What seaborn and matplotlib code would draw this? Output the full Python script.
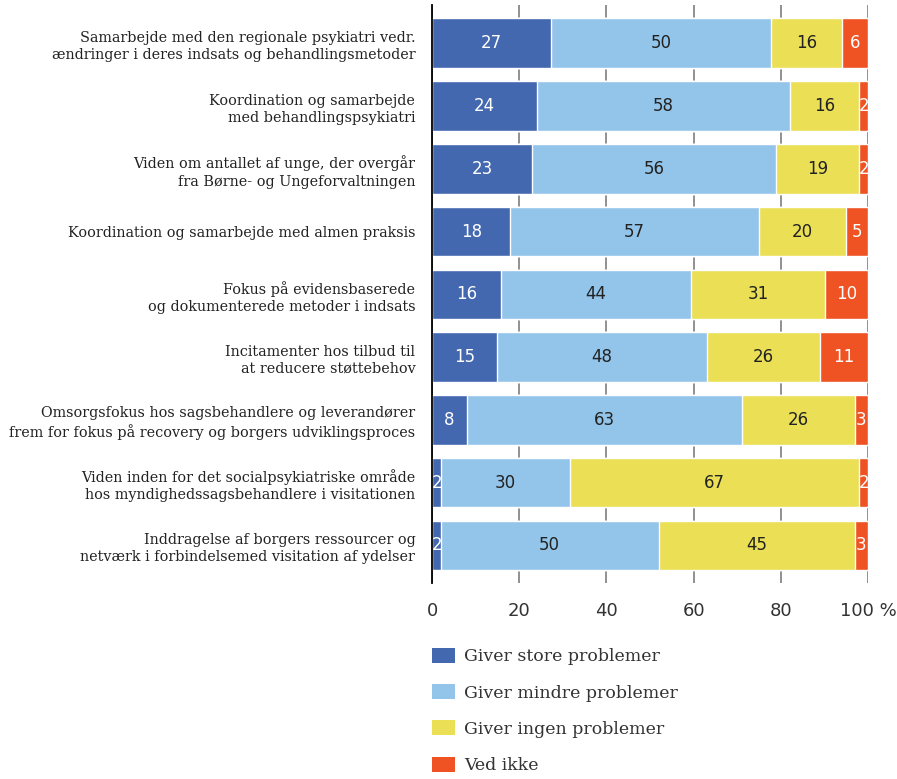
import pandas as pd
import matplotlib.pyplot as plt
import seaborn as sns
from matplotlib.patches import Patch

# Data (percent)
labels = [
    'Samarbejde med den regionale psykiatri vedr.\nændringer i deres indsats og behandlingsmetoder',
    'Koordination og samarbejde\nmed behandlingspsykiatri',
    'Viden om antallet af unge, der overgår\nfra Børne- og Ungeforvaltningen',
    'Koordination og samarbejde med almen praksis',
    'Fokus på evidensbaserede\nog dokumenterede metoder i indsats',
    'Incitamenter hos tilbud til\nat reducere støttebehov',
    'Omsorgsfokus hos sagsbehandlere og leverandører\nfrem for fokus på recovery og borgers udviklingsproces',
    'Viden inden for det socialpsykiatriske område\nhos myndighedssagsbehandlere i visitationen',
    'Inddragelse af borgers ressourcer og\nnetværk i forbindelsemed visitation af ydelser',
]
store = [27, 24, 23, 18, 16, 15, 8, 2, 2]
mindre = [50, 58, 56, 57, 44, 48, 63, 30, 50]
ingen = [16, 16, 19, 20, 31, 26, 26, 67, 45]
ved_ikke = [6, 2, 2, 5, 10, 11, 3, 2, 3]

series = ['Giver store problemer', 'Giver mindre problemer', 'Giver ingen problemer', 'Ved ikke']
colors = ['#4468b0', '#93c5ea', '#eadf55', '#f05323']
text_colors = ['white', '#222222', '#222222', 'white']

df = pd.DataFrame({series[0]: store, series[1]: mindre, series[2]: ingen, series[3]: ved_ikke},
                  index=labels)
# scale each row to 100 %
share = df.div(df.sum(axis=1), axis=0) * 100
cum = share.cumsum(axis=1)

sns.set_theme(style='white')
fig = plt.figure(figsize=(8.97, 7.79), dpi=100)
ax = fig.add_axes([432 / 897, 1 - 583 / 779, 436 / 897, 578 / 779])

# draw stacked bars back to front using cumulative totals
for s, c in reversed(list(zip(series, colors))):
    sns.barplot(x=cum[s].values, y=labels, color=c, orient='h', width=0.79,
                ax=ax, saturation=1, zorder=2)

for i, lab in enumerate(labels):
    for s, tc in zip(series, text_colors):
        center = cum.loc[lab, s] - share.loc[lab, s] / 2
        val = df.loc[lab, s]
        if val <= 2:
            center = cum.loc[lab, s] - share.loc[lab, s] / 2 + 0.2
        ax.text(center, i, str(val), ha='center', va='center', color=tc,
                fontsize=12, family='DejaVu Sans', zorder=3)

ax.set_xlim(0, 100)
ax.set_ylim(8.6, -0.61)
ax.set_xticks([0, 20, 40, 60, 80, 100])
ax.set_xticklabels(['0', '20', '40', '60', '80', '100 %'], fontsize=13, color='#333333')
ax.tick_params(axis='x', length=0, pad=14)
ax.tick_params(axis='y', length=0, pad=12)
for t in ax.get_yticklabels():
    t.set_family('DejaVu Serif')
    t.set_fontsize(10.4)
    t.set_color('#222222')
    t.set_multialignment('right')
    t.set_linespacing(1.3)
ax.grid(axis='x', color='#888888', linewidth=1.3, zorder=0)
ax.set_axisbelow(True)
ax.set_xlabel('')
ax.set_ylabel('')
for side in ['top', 'right', 'bottom']:
    ax.spines[side].set_visible(False)
ax.spines['left'].set_color('black')
ax.spines['left'].set_linewidth(1.3)

handles = [Patch(facecolor=c, edgecolor='none') for c in colors]
fig.legend(handles, series, loc='upper left', bbox_to_anchor=(425 / 897, 1 - 641 / 779),
           frameon=False, prop={'family': 'DejaVu Serif', 'size': 12.5},
           labelcolor='#333333', handlelength=1.35, handleheight=0.95,
           handletextpad=0.5, labelspacing=1.08, borderaxespad=0)

fig.savefig('out.png', dpi=100)
